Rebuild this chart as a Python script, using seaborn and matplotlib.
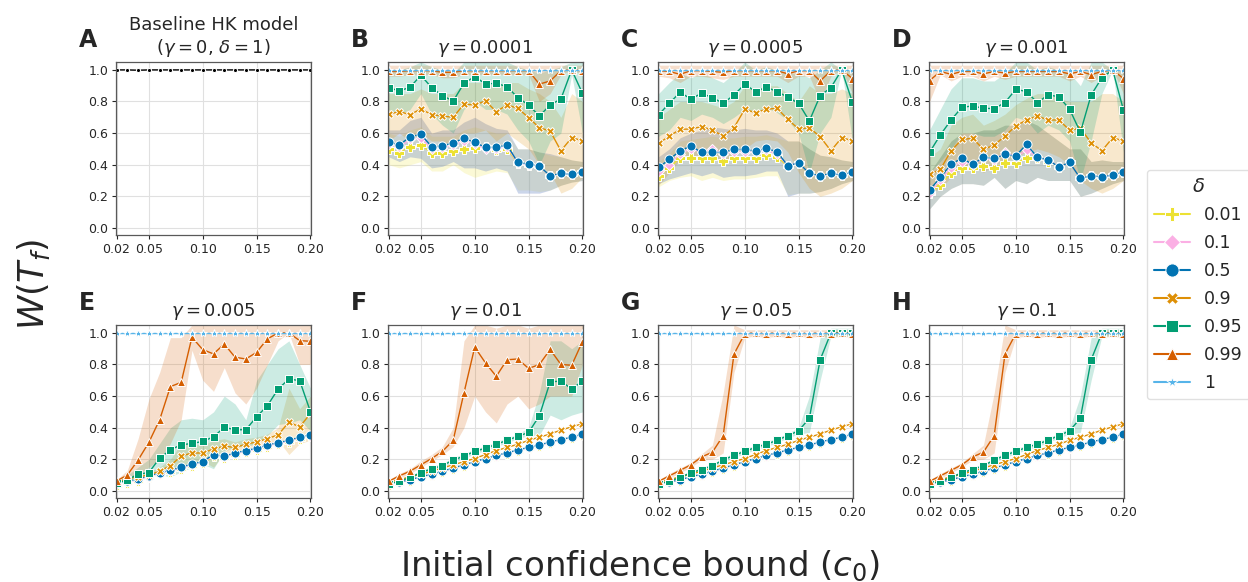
import numpy as np
import pandas as pd
import matplotlib
matplotlib.use("Agg")
import matplotlib.pyplot as plt
from matplotlib.lines import Line2D
import seaborn as sns

# x axis: initial confidence bound
c0 = [0.02, 0.03, 0.04, 0.05, 0.06, 0.07, 0.08, 0.09, 0.10, 0.11,
      0.12, 0.13, 0.14, 0.15, 0.16, 0.17, 0.18, 0.19, 0.20]

deltas = [0.01, 0.1, 0.5, 0.9, 0.95, 0.99, 1]
delta_labels = ["0.01", "0.1", "0.5", "0.9", "0.95", "0.99", "1"]

# --- A: baseline HK model
base_hk = [1.0, 1.0, 0.998, 1.0, 1.0, 1.0, 1.0, 1.0, 1.0, 1.0,
           1.0, 1.0, 1.0, 1.0, 1.0, 1.0, 1.0, 1.0, 1.0]

ones = [1.0, 1.0, 1.0, 1.0, 1.0, 1.0, 1.0, 1.0, 1.0, 1.0,
        1.0, 1.0, 1.0, 1.0, 1.0, 1.0, 1.0, 1.0, 1.0]
top_hi = [1.03, 1.03, 1.03, 1.03, 1.03, 1.03, 1.03, 1.03, 1.03, 1.03,
          1.03, 1.03, 1.03, 1.03, 1.03, 1.03, 1.03, 1.03, 1.03]

# --- B: gamma = 0.0001
B_001 = [0.497, 0.476, 0.514, 0.524, 0.476, 0.471, 0.488, 0.497, 0.503, 0.51,
         0.493, 0.50, 0.41, 0.40, 0.39, 0.33, 0.345, 0.338, 0.355]
B_01 = [0.53, 0.51, 0.56, 0.57, 0.50, 0.505, 0.525, 0.55, 0.53, 0.50,
        0.50, 0.515, 0.41, 0.40, 0.39, 0.33, 0.345, 0.338, 0.355]
B_05 = [0.545, 0.524, 0.577, 0.592, 0.514, 0.518, 0.539, 0.567, 0.541, 0.51,
        0.51, 0.524, 0.414, 0.404, 0.391, 0.33, 0.345, 0.338, 0.355]
B_09 = [0.719, 0.736, 0.717, 0.753, 0.717, 0.708, 0.70, 0.784, 0.778, 0.803,
        0.736, 0.778, 0.757, 0.698, 0.634, 0.613, 0.488, 0.571, 0.552]
B_095 = [0.888, 0.867, 0.89, 0.966, 0.888, 0.837, 0.803, 0.915, 0.958, 0.911,
         0.915, 0.894, 0.824, 0.778, 0.708, 0.778, 0.816, 1.0, 0.852]
B_099 = [0.99, 0.99, 0.995, 0.995, 0.995, 0.985, 0.985, 0.995, 0.995, 0.995,
         0.995, 0.995, 0.995, 0.995, 0.91, 0.93, 0.995, 1.0, 0.995]
B_lo_001 = [0.40, 0.38, 0.40, 0.42, 0.36, 0.36, 0.40, 0.35, 0.32, 0.34,
            0.36, 0.35, 0.24, 0.24, 0.23, 0.24, 0.27, 0.29, 0.30]
B_hi_001 = [0.60, 0.58, 0.62, 0.64, 0.58, 0.58, 0.58, 0.62, 0.64, 0.62,
            0.60, 0.60, 0.50, 0.50, 0.48, 0.46, 0.45, 0.43, 0.42]
B_lo_05 = [0.45, 0.42, 0.45, 0.44, 0.38, 0.39, 0.42, 0.38, 0.38, 0.36,
           0.38, 0.36, 0.22, 0.22, 0.22, 0.24, 0.27, 0.29, 0.30]
B_hi_05 = [0.62, 0.62, 0.68, 0.70, 0.60, 0.62, 0.62, 0.67, 0.70, 0.66,
           0.63, 0.62, 0.50, 0.50, 0.48, 0.47, 0.45, 0.43, 0.42]
B_lo_09 = [0.55, 0.60, 0.55, 0.60, 0.55, 0.55, 0.52, 0.60, 0.60, 0.62,
           0.55, 0.60, 0.55, 0.50, 0.40, 0.35, 0.22, 0.25, 0.32]
B_hi_09 = [0.85, 0.85, 0.85, 0.88, 0.85, 0.85, 0.85, 0.92, 0.92, 0.92,
           0.90, 0.92, 0.92, 0.88, 0.85, 0.80, 0.70, 0.85, 0.80]
B_lo_095 = [0.75, 0.72, 0.75, 0.85, 0.72, 0.65, 0.60, 0.75, 0.80, 0.75,
            0.75, 0.72, 0.62, 0.55, 0.40, 0.55, 0.60, 0.97, 0.60]
B_hi_095 = [1.0, 1.0, 1.02, 1.05, 1.02, 1.0, 0.98, 1.05, 1.05, 1.05,
            1.05, 1.05, 1.02, 1.0, 0.98, 1.0, 1.02, 1.05, 1.05]
B_lo_099 = [0.96, 0.96, 0.97, 0.97, 0.97, 0.95, 0.95, 0.97, 0.97, 0.97,
            0.97, 0.97, 0.97, 0.97, 0.80, 0.85, 0.97, 1.0, 0.97]

# --- C: gamma = 0.0005
C_001 = [0.33, 0.38, 0.445, 0.445, 0.44, 0.44, 0.425, 0.44, 0.44, 0.445,
         0.46, 0.45, 0.39, 0.41, 0.345, 0.33, 0.345, 0.334, 0.355]
C_01 = [0.36, 0.40, 0.47, 0.50, 0.48, 0.50, 0.47, 0.48, 0.48, 0.48,
        0.49, 0.47, 0.393, 0.412, 0.345, 0.33, 0.345, 0.334, 0.355]
C_05 = [0.383, 0.433, 0.488, 0.518, 0.478, 0.478, 0.478, 0.497, 0.497, 0.486,
        0.503, 0.482, 0.393, 0.412, 0.345, 0.33, 0.345, 0.334, 0.355]
C_09 = [0.535, 0.581, 0.624, 0.626, 0.641, 0.619, 0.581, 0.634, 0.751, 0.729,
        0.751, 0.757, 0.687, 0.626, 0.634, 0.577, 0.488, 0.571, 0.552]
C_095 = [0.715, 0.789, 0.858, 0.816, 0.852, 0.824, 0.789, 0.841, 0.909, 0.863,
         0.89, 0.863, 0.827, 0.789, 0.677, 0.837, 0.888, 1.0, 0.795]
C_099 = [0.995, 0.99, 0.972, 0.995, 0.995, 0.99, 0.985, 0.995, 0.995, 0.995,
         0.995, 0.995, 0.975, 0.995, 0.995, 0.93, 0.995, 1.0, 0.945]
C_lo_001 = [0.26, 0.30, 0.32, 0.33, 0.30, 0.32, 0.30, 0.31, 0.31, 0.32,
            0.33, 0.33, 0.21, 0.22, 0.22, 0.23, 0.25, 0.28, 0.30]
C_hi_001 = [0.42, 0.47, 0.55, 0.56, 0.57, 0.58, 0.57, 0.57, 0.58, 0.58,
            0.59, 0.57, 0.55, 0.55, 0.50, 0.46, 0.45, 0.43, 0.42]
C_lo_05 = [0.28, 0.31, 0.33, 0.35, 0.33, 0.35, 0.32, 0.33, 0.33, 0.34,
           0.36, 0.36, 0.20, 0.22, 0.22, 0.23, 0.25, 0.28, 0.30]
C_hi_05 = [0.45, 0.50, 0.57, 0.60, 0.62, 0.64, 0.63, 0.62, 0.63, 0.62,
           0.62, 0.60, 0.55, 0.55, 0.50, 0.46, 0.45, 0.43, 0.42]
C_lo_09 = [0.27, 0.35, 0.43, 0.45, 0.45, 0.44, 0.42, 0.45, 0.50, 0.55,
           0.56, 0.55, 0.48, 0.35, 0.25, 0.20, 0.22, 0.25, 0.30]
C_hi_09 = [0.70, 0.75, 0.80, 0.80, 0.80, 0.78, 0.76, 0.80, 0.90, 0.88,
           0.90, 0.90, 0.85, 0.80, 0.90, 0.85, 0.85, 0.88, 0.85]
C_lo_095 = [0.58, 0.62, 0.70, 0.68, 0.72, 0.70, 0.66, 0.70, 0.75, 0.73,
            0.76, 0.73, 0.68, 0.60, 0.35, 0.60, 0.70, 1.0, 0.55]
C_hi_095 = [0.85, 0.92, 0.98, 0.95, 0.98, 0.95, 0.92, 0.98, 1.05, 1.0,
            1.02, 1.0, 0.98, 0.98, 0.95, 1.0, 1.05, 1.0, 1.0]
C_lo_099 = [0.96, 0.95, 0.92, 0.96, 0.96, 0.95, 0.94, 0.96, 0.96, 0.96,
            0.96, 0.96, 0.92, 0.96, 0.96, 0.80, 0.96, 1.0, 0.85]

# --- D: gamma = 0.001
D_001 = [0.22, 0.27, 0.35, 0.38, 0.38, 0.39, 0.38, 0.41, 0.41, 0.44,
         0.44, 0.42, 0.387, 0.414, 0.313, 0.33, 0.323, 0.334, 0.355]
D_01 = [0.22, 0.30, 0.38, 0.42, 0.40, 0.44, 0.43, 0.48, 0.45, 0.49,
        0.45, 0.43, 0.387, 0.414, 0.313, 0.33, 0.323, 0.334, 0.355]
D_05 = [0.239, 0.319, 0.404, 0.44, 0.402, 0.446, 0.44, 0.465, 0.455, 0.529,
        0.448, 0.429, 0.387, 0.414, 0.313, 0.33, 0.323, 0.334, 0.355]
D_09 = [0.338, 0.37, 0.488, 0.56, 0.567, 0.497, 0.524, 0.581, 0.645, 0.683,
        0.708, 0.683, 0.683, 0.619, 0.63, 0.539, 0.488, 0.571, 0.55]
D_095 = [0.478, 0.588, 0.683, 0.763, 0.772, 0.757, 0.755, 0.793, 0.877, 0.863,
         0.793, 0.841, 0.831, 0.751, 0.605, 0.841, 0.951, 1.0, 0.746]
D_099 = [0.932, 0.99, 0.972, 0.99, 0.99, 0.975, 0.99, 0.98, 0.99, 0.99,
         0.99, 0.99, 0.99, 0.975, 0.99, 0.97, 0.99, 1.0, 0.945]
D_lo_05 = [0.12, 0.20, 0.25, 0.28, 0.28, 0.27, 0.32, 0.25, 0.30, 0.28,
           0.32, 0.30, 0.30, 0.30, 0.20, 0.22, 0.25, 0.28, 0.30]
D_hi_05 = [0.35, 0.45, 0.55, 0.60, 0.60, 0.62, 0.62, 0.65, 0.65, 0.68,
           0.65, 0.60, 0.55, 0.50, 0.50, 0.42, 0.43, 0.42, 0.42]
D_lo_09 = [0.22, 0.25, 0.32, 0.38, 0.40, 0.35, 0.40, 0.42, 0.45, 0.48,
           0.50, 0.48, 0.45, 0.40, 0.30, 0.25, 0.22, 0.25, 0.30]
D_hi_09 = [0.45, 0.50, 0.65, 0.70, 0.72, 0.65, 0.68, 0.72, 0.78, 0.82,
           0.85, 0.85, 0.82, 0.80, 0.80, 0.80, 0.85, 0.85, 0.80]
D_lo_095 = [0.35, 0.42, 0.50, 0.60, 0.60, 0.58, 0.58, 0.62, 0.70, 0.68,
            0.60, 0.65, 0.62, 0.55, 0.30, 0.55, 0.85, 1.0, 0.48]
D_hi_095 = [0.62, 0.75, 0.88, 0.95, 0.95, 0.93, 0.93, 0.98, 1.05, 1.05,
            1.0, 1.02, 1.0, 0.98, 0.90, 1.05, 1.05, 1.0, 1.0]
D_lo_099 = [0.80, 0.97, 0.93, 0.96, 0.96, 0.93, 0.96, 0.94, 0.96, 0.96,
            0.96, 0.96, 0.96, 0.93, 0.96, 0.92, 0.96, 1.0, 0.85]

# --- E: gamma = 0.005
E_001 = [0.04, 0.05, 0.065, 0.085, 0.105, 0.12, 0.14, 0.16, 0.175, 0.22,
         0.21, 0.23, 0.245, 0.26, 0.28, 0.295, 0.31, 0.33, 0.345]
E_01 = [0.045, 0.055, 0.07, 0.09, 0.11, 0.125, 0.145, 0.165, 0.18, 0.225,
        0.215, 0.235, 0.25, 0.265, 0.285, 0.30, 0.315, 0.335, 0.35]
E_05 = [0.05, 0.06, 0.075, 0.095, 0.115, 0.13, 0.15, 0.17, 0.185, 0.23,
        0.22, 0.24, 0.255, 0.27, 0.29, 0.305, 0.32, 0.34, 0.355]
E_09 = [0.055, 0.075, 0.09, 0.10, 0.125, 0.16, 0.22, 0.24, 0.24, 0.265,
        0.283, 0.275, 0.295, 0.31, 0.33, 0.355, 0.435, 0.405, 0.49]
E_095 = [0.047, 0.07, 0.106, 0.116, 0.207, 0.26, 0.292, 0.30, 0.313, 0.342,
         0.402, 0.387, 0.387, 0.469, 0.539, 0.645, 0.708, 0.698, 0.501]
E_099 = [0.063, 0.10, 0.195, 0.307, 0.45, 0.66, 0.687, 0.973, 0.894, 0.867,
         0.93, 0.846, 0.835, 0.877, 0.962, 1.0, 1.0, 0.951, 0.947]
E_lo_09 = [0.045, 0.06, 0.07, 0.08, 0.10, 0.12, 0.15, 0.18, 0.19, 0.15,
           0.24, 0.24, 0.26, 0.28, 0.30, 0.32, 0.23, 0.30, 0.32]
E_hi_09 = [0.065, 0.09, 0.11, 0.12, 0.15, 0.20, 0.30, 0.30, 0.29, 0.32,
           0.33, 0.31, 0.33, 0.34, 0.36, 0.40, 0.65, 0.52, 0.60]
E_lo_095 = [0.04, 0.05, 0.08, 0.10, 0.10, 0.09, 0.12, 0.15, 0.17, 0.14,
            0.25, 0.28, 0.28, 0.30, 0.35, 0.42, 0.43, 0.45, 0.38]
E_hi_095 = [0.06, 0.10, 0.15, 0.20, 0.30, 0.40, 0.45, 0.46, 0.45, 0.50,
            0.60, 0.55, 0.45, 0.70, 0.80, 0.90, 0.95, 0.80, 0.65]
E_lo_099 = [0.05, 0.07, 0.10, 0.15, 0.20, 0.30, 0.45, 0.89, 0.70, 0.63,
            0.78, 0.62, 0.55, 0.65, 0.80, 0.95, 1.0, 0.80, 0.80]
E_hi_099 = [0.07, 0.13, 0.33, 0.58, 0.75, 0.97, 0.97, 1.05, 1.05, 1.05,
            1.05, 1.05, 1.05, 1.05, 1.05, 1.05, 1.05, 1.05, 1.05]

# --- shared low series for gamma >= 0.01
low_001 = [0.04, 0.05, 0.065, 0.085, 0.10, 0.12, 0.14, 0.16, 0.18, 0.20,
           0.22, 0.235, 0.255, 0.27, 0.285, 0.305, 0.32, 0.335, 0.355]
low_01 = [0.043, 0.053, 0.068, 0.088, 0.103, 0.123, 0.143, 0.163, 0.183, 0.203,
          0.223, 0.238, 0.258, 0.273, 0.288, 0.308, 0.323, 0.338, 0.358]
low_05 = [0.045, 0.055, 0.07, 0.09, 0.105, 0.125, 0.145, 0.165, 0.185, 0.205,
          0.225, 0.24, 0.26, 0.275, 0.29, 0.31, 0.325, 0.34, 0.36]
low_09 = [0.055, 0.07, 0.09, 0.105, 0.125, 0.145, 0.165, 0.185, 0.205, 0.23,
          0.255, 0.275, 0.295, 0.32, 0.34, 0.36, 0.385, 0.405, 0.425]

# --- F: gamma = 0.01
F_095 = [0.045, 0.06, 0.085, 0.115, 0.14, 0.16, 0.195, 0.22, 0.25, 0.27,
         0.295, 0.32, 0.345, 0.37, 0.475, 0.69, 0.695, 0.645, 0.695]
F_099 = [0.06, 0.095, 0.125, 0.165, 0.205, 0.25, 0.32, 0.62, 0.91, 0.81,
         0.725, 0.83, 0.835, 0.775, 0.80, 0.895, 0.80, 0.795, 0.945]
F_lo_095 = [0.04, 0.05, 0.075, 0.10, 0.125, 0.145, 0.18, 0.205, 0.235, 0.255,
            0.28, 0.305, 0.33, 0.35, 0.35, 0.48, 0.45, 0.48, 0.50]
F_hi_095 = [0.05, 0.07, 0.095, 0.13, 0.155, 0.175, 0.21, 0.235, 0.265, 0.285,
            0.31, 0.335, 0.36, 0.40, 0.62, 0.95, 0.95, 0.90, 0.95]
F_lo_099 = [0.05, 0.08, 0.11, 0.15, 0.19, 0.23, 0.28, 0.40, 0.60, 0.50,
            0.43, 0.55, 0.60, 0.52, 0.55, 0.60, 0.60, 0.60, 0.80]
F_hi_099 = [0.07, 0.11, 0.14, 0.19, 0.23, 0.28, 0.40, 0.95, 1.05, 1.05,
            1.03, 1.05, 1.05, 1.03, 1.05, 1.05, 1.05, 1.05, 1.05]

# --- G / H: gamma = 0.05 and 0.1 (practically identical)
G_095 = [0.045, 0.06, 0.085, 0.115, 0.135, 0.16, 0.195, 0.225, 0.25, 0.275,
         0.295, 0.32, 0.35, 0.38, 0.46, 0.83, 1.0, 1.0, 1.0]
G_099 = [0.06, 0.095, 0.13, 0.165, 0.215, 0.245, 0.35, 0.865, 0.995, 1.0,
         0.995, 1.0, 0.995, 1.0, 0.995, 1.0, 0.995, 1.0, 0.995]
G_lo_095 = [0.04, 0.05, 0.075, 0.105, 0.125, 0.15, 0.18, 0.21, 0.235, 0.26,
            0.28, 0.305, 0.335, 0.36, 0.37, 0.70, 0.98, 0.98, 0.98]
G_hi_095 = [0.05, 0.07, 0.095, 0.125, 0.145, 0.17, 0.21, 0.24, 0.265, 0.29,
            0.31, 0.335, 0.365, 0.40, 0.60, 0.97, 1.03, 1.03, 1.03]
G_lo_099 = [0.05, 0.08, 0.115, 0.15, 0.195, 0.20, 0.24, 0.75, 0.97, 0.98,
            0.97, 0.98, 0.97, 0.98, 0.97, 0.98, 0.97, 0.98, 0.97]
G_hi_099 = [0.07, 0.11, 0.145, 0.18, 0.235, 0.29, 0.62, 1.05, 1.02, 1.02,
            1.02, 1.02, 1.02, 1.02, 1.02, 1.02, 1.02, 1.02, 1.02]

panels = [
    ("A", "Baseline HK model\n($\\gamma = 0$, $\\delta = 1$)", None, None),
    ("B", "$\\gamma = 0.0001$",
     {0.01: B_001, 0.1: B_01, 0.5: B_05, 0.9: B_09, 0.95: B_095, 0.99: B_099, 1: ones},
     {0.01: (B_lo_001, B_hi_001), 0.1: (B_lo_05, B_hi_05), 0.5: (B_lo_05, B_hi_05),
      0.9: (B_lo_09, B_hi_09), 0.95: (B_lo_095, B_hi_095), 0.99: (B_lo_099, top_hi)}),
    ("C", "$\\gamma = 0.0005$",
     {0.01: C_001, 0.1: C_01, 0.5: C_05, 0.9: C_09, 0.95: C_095, 0.99: C_099, 1: ones},
     {0.01: (C_lo_001, C_hi_001), 0.1: (C_lo_05, C_hi_05), 0.5: (C_lo_05, C_hi_05),
      0.9: (C_lo_09, C_hi_09), 0.95: (C_lo_095, C_hi_095), 0.99: (C_lo_099, top_hi)}),
    ("D", "$\\gamma = 0.001$",
     {0.01: D_001, 0.1: D_01, 0.5: D_05, 0.9: D_09, 0.95: D_095, 0.99: D_099, 1: ones},
     {0.01: (D_lo_05, D_hi_05), 0.1: (D_lo_05, D_hi_05), 0.5: (D_lo_05, D_hi_05),
      0.9: (D_lo_09, D_hi_09), 0.95: (D_lo_095, D_hi_095), 0.99: (D_lo_099, top_hi)}),
    ("E", "$\\gamma = 0.005$",
     {0.01: E_001, 0.1: E_01, 0.5: E_05, 0.9: E_09, 0.95: E_095, 0.99: E_099, 1: ones},
     {0.9: (E_lo_09, E_hi_09), 0.95: (E_lo_095, E_hi_095), 0.99: (E_lo_099, E_hi_099)}),
    ("F", "$\\gamma = 0.01$",
     {0.01: low_001, 0.1: low_01, 0.5: low_05, 0.9: low_09, 0.95: F_095, 0.99: F_099, 1: ones},
     {0.95: (F_lo_095, F_hi_095), 0.99: (F_lo_099, F_hi_099)}),
    ("G", "$\\gamma = 0.05$",
     {0.01: low_001, 0.1: low_01, 0.5: low_05, 0.9: low_09, 0.95: G_095, 0.99: G_099, 1: ones},
     {0.95: (G_lo_095, G_hi_095), 0.99: (G_lo_099, G_hi_099)}),
    ("H", "$\\gamma = 0.1$",
     {0.01: low_001, 0.1: low_01, 0.5: low_05, 0.9: low_09, 0.95: G_095, 0.99: G_099, 1: ones},
     {0.95: (G_lo_095, G_hi_095), 0.99: (G_lo_099, G_hi_099)}),
]

colors = {0.01: "#ece133", 0.1: "#fbafe4", 0.5: "#0173b2", 0.9: "#de8f05",
          0.95: "#029e73", 0.99: "#d55e00", 1: "#56b4e9"}
markers = {0.01: "P", 0.1: "D", 0.5: "o", 0.9: "X", 0.95: "s", 0.99: "^", 1: "*"}
msizes = {0.01: 6.5, 0.1: 5.5, 0.5: 6.5, 0.9: 6, 0.95: 6, 0.99: 5.5, 1: 6}

sns.set_style("whitegrid", {"axes.edgecolor": ".35", "xtick.bottom": True,
                            "ytick.left": True, "grid.color": ".88"})
plt.rcParams["font.family"] = ["DejaVu Sans"]

W, H = 1248, 582
fig = plt.figure(figsize=(W / 100, H / 100), dpi=100)

lefts = [116, 388, 658, 929]
tops = [62, 325]
aw, ah = 195, 173

for i, (letter, title, means, bands) in enumerate(panels):
    r, c = divmod(i, 4)
    x0, y0 = lefts[c], tops[r]
    ax = fig.add_axes([x0 / W, 1 - (y0 + ah) / H, aw / W, ah / H])
    if means is None:
        sns.lineplot(x=c0, y=base_hk, color="black", marker="o", markersize=3,
                     lw=1, errorbar=None, ax=ax)
    else:
        for d in deltas:
            if d in bands:
                lo, hi = bands[d]
                ax.fill_between(c0, lo, hi, color=colors[d], alpha=0.2, lw=0)
        for d in deltas:
            sns.lineplot(x=c0, y=means[d], color=colors[d], marker=markers[d],
                         markersize=msizes[d], markeredgecolor="white",
                         markeredgewidth=0.7, lw=1, errorbar=None, ax=ax)
    ax.set_xlim(0.0195, 0.2005)
    ax.set_ylim(-0.045, 1.05)
    ax.set_xticks([0.02, 0.05, 0.10, 0.15, 0.20])
    ax.set_xticklabels(["0.02", "0.05", "0.10", "0.15", "0.20"])
    ax.set_yticks([0.0, 0.2, 0.4, 0.6, 0.8, 1.0])
    ax.tick_params(labelsize=9, length=3, width=0.8, pad=2.5, colors=".15")
    for s in ax.spines.values():
        s.set_linewidth(0.9)
    ax.set_title(title, fontsize=13, pad=6.5, color=".15")
    fig.text((x0 - 37) / W, 1 - (y0 - 15) / H, letter, fontsize=17,
             fontweight="bold", va="baseline", ha="left", color=".15")

fig.text(33 / W, 1 - 284 / H, "$W(T_f)$", rotation=90, fontsize=25,
         ha="center", va="center", color=".15")
fig.text(640 / W, 1 - 576 / H, "Initial confidence bound ($c_0$)", fontsize=24.5,
         ha="center", va="baseline", color=".15")

handles = [Line2D([], [], color=colors[d], marker=markers[d],
                  markersize=msizes[d] + 3, markeredgecolor="white",
                  markeredgewidth=0.7, lw=1.5) for d in deltas]
leg = fig.legend(handles, delta_labels, loc="upper left",
                 bbox_to_anchor=(1147 / W, 1 - 170 / H), borderaxespad=0,
                 fontsize=12.5, title="$\\delta$", title_fontsize=14,
                 frameon=True, handlelength=2.1, handletextpad=0.8,
                 labelspacing=0.58, borderpad=0.4, fancybox=True)
leg.get_frame().set_edgecolor(".85")
for t in leg.get_texts():
    t.set_color(".15")

fig.savefig("out.png", dpi=100)
